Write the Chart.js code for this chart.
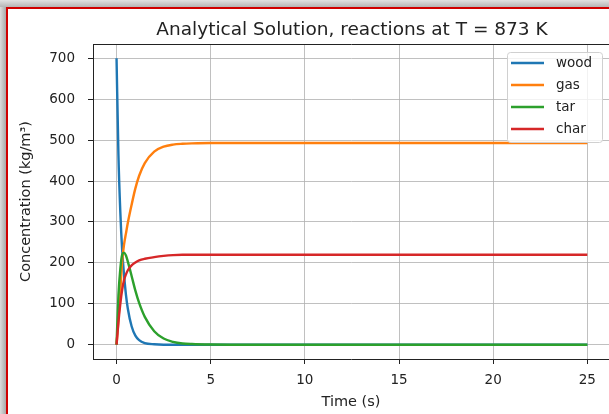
<!DOCTYPE html>
<html>
<head>
<meta charset="utf-8">
<script src="https://cdn.jsdelivr.net/npm/chart.js@4.4.0/dist/chart.umd.min.js"></script>
<style>
  html, body { margin: 0; padding: 0; background: #fff; }
  #wrap { position: relative; width: 609px; height: 414px; overflow: hidden; background: #fff; }
  #wrap canvas { position: absolute; left: 0; top: 0; }
  .edge-left { position: absolute; left: 0; top: 0; width: 6px; height: 414px; background: linear-gradient(to right, #dcdcdc, #a9a9a9); }
  .edge-top { position: absolute; left: 0; top: 0; width: 609px; height: 7px; background: linear-gradient(to bottom, #e2e2e2, #b5b5b5); }
  .red-left { position: absolute; left: 6px; top: 7px; width: 2px; height: 407px; background: #d00000; }
  .red-top { position: absolute; left: 6px; top: 7px; width: 603px; height: 2px; background: #d00000; }
</style>
</head>
<body>
<div id="wrap">
  <canvas id="chart" width="609" height="414"></canvas>
  <div class="edge-left"></div>
  <div class="edge-top"></div>
  <div class="red-left"></div>
  <div class="red-top"></div>
</div>
<script>
// values
const time = [0, 0.1, 0.2, 0.3, 0.4, 0.5, 0.6, 0.8, 1, 1.2, 1.5, 2, 2.5, 3, 3.5, 4, 5, 6, 8, 10, 15, 20, 25];
const wood = [700, 465, 325, 230, 170, 122, 88, 45, 22, 11, 4, 1, 0, 0, 0, 0, 0, 0, 0, 0, 0, 0, 0];
const gas  = [0, 60, 130, 205, 245, 272, 298, 342, 382, 413, 444, 472, 484, 489, 491, 492, 493, 493, 493, 493, 493, 493, 493];
const tar  = [0, 120, 185, 220, 225, 218, 203, 168, 132, 102, 68, 33, 15, 7, 3, 1.5, 0.3, 0, 0, 0, 0, 0, 0];
const char = [0, 55, 100, 135, 158, 172, 182, 194, 201, 206, 210, 214, 217, 219, 220, 220, 220, 220, 220, 220, 220, 220, 220];

const xTicks = [0, 5, 10, 15, 20, 25];
const yTicks = [0, 100, 200, 300, 400, 500, 600, 700];

const seriesNames = ['wood', 'gas', 'tar', 'char'];
const seriesColors = ['#1f77b4', '#ff7f0e', '#2ca02c', '#d62728'];
const seriesValues = [wood, gas, tar, char];

const titleText = 'Analytical Solution, reactions at T = 873 K';

const FONT = '"DejaVu Sans", sans-serif';
const INK = '#222';

const datasets = seriesValues.map((vals, i) => ({
  label: seriesNames[i],
  data: time.map((t, j) => ({ x: t, y: vals[j] })),
  borderColor: seriesColors[i],
  backgroundColor: seriesColors[i],
  borderWidth: 2.4,
  pointRadius: 0,
  fill: false,
  cubicInterpolationMode: 'monotone',
  order: seriesNames.length - i
}));

const frame = {
  id: 'frame',
  afterDraw(chart) {
    const { ctx, chartArea } = chart;
    ctx.save();
    // top spine
    ctx.strokeStyle = INK;
    ctx.lineWidth = 1;
    ctx.beginPath();
    ctx.moveTo(chartArea.left, chartArea.top + 0.5);
    ctx.lineTo(chartArea.right + 2, chartArea.top + 0.5);
    ctx.stroke();

    // title centred over the axes (right spine sits just past the edge)
    ctx.fillStyle = INK;
    ctx.font = '18.5px ' + FONT;
    ctx.textAlign = 'center';
    ctx.textBaseline = 'alphabetic';
    ctx.fillText(titleText, (chartArea.left + chartArea.right + 2) / 2, 35);

    // legend box, upper right
    const w = 95, h = 90;
    const x = chartArea.right - 102, y = chartArea.top + 8;
    ctx.fillStyle = 'rgba(255,255,255,0.8)';
    ctx.strokeStyle = '#d0d0d0';
    ctx.beginPath();
    ctx.roundRect(x + 0.5, y + 0.5, w, h, 3);
    ctx.fill();
    ctx.stroke();
    ctx.font = '13.5px ' + FONT;
    ctx.textBaseline = 'middle';
    ctx.textAlign = 'left';
    chart.data.datasets.forEach((ds, i) => {
      const ly = y + 11 + i * 22;
      ctx.strokeStyle = ds.borderColor;
      ctx.lineWidth = 2.4;
      ctx.beginPath();
      ctx.moveTo(x + 4, ly);
      ctx.lineTo(x + 37, ly);
      ctx.stroke();
      ctx.fillStyle = INK;
      ctx.fillText(ds.label, x + 49, ly);
    });
    ctx.restore();
  }
};

new Chart(document.getElementById('chart'), {
  type: 'line',
  data: { datasets },
  options: {
    responsive: false,
    animation: false,
    layout: { padding: { top: 44, left: 0, right: 0, bottom: 0 } },
    plugins: {
      legend: { display: false },
      tooltip: { enabled: false },
      title: { display: false }
    },
    scales: {
      x: {
        type: 'linear',
        min: -1.25,
        max: 26.15,
        afterBuildTicks: s => { s.ticks = xTicks.map(v => ({ value: v })); },
        afterFit: s => { s.height = 55; },
        ticks: { color: INK, font: { family: FONT, size: 13.5 }, padding: 8, maxRotation: 0 },
        grid: { color: 'rgba(176,176,176,0.8)', lineWidth: 1, tickColor: INK, tickLength: 5 },
        border: { display: true, color: INK, width: 1 },
        title: { display: true, text: 'Time (s)', color: INK, font: { family: FONT, size: 14.5 }, padding: { top: 0, bottom: 3 } }
      },
      y: {
        type: 'linear',
        min: -35,
        max: 735,
        afterBuildTicks: s => { s.ticks = yTicks.map(v => ({ value: v })); },
        afterFit: s => { s.width = 93; },
        ticks: { color: INK, font: { family: FONT, size: 13.5 }, padding: 13 },
        grid: { color: 'rgba(176,176,176,0.8)', lineWidth: 1, tickColor: INK, tickLength: 5 },
        border: { display: true, color: INK, width: 1 },
        title: { display: true, text: 'Concentration (kg/m³)', color: INK, font: { family: FONT, size: 14.5 }, padding: { top: 18, bottom: 0 } }
      }
    }
  },
  plugins: [frame]
});
</script>
</body>
</html>
